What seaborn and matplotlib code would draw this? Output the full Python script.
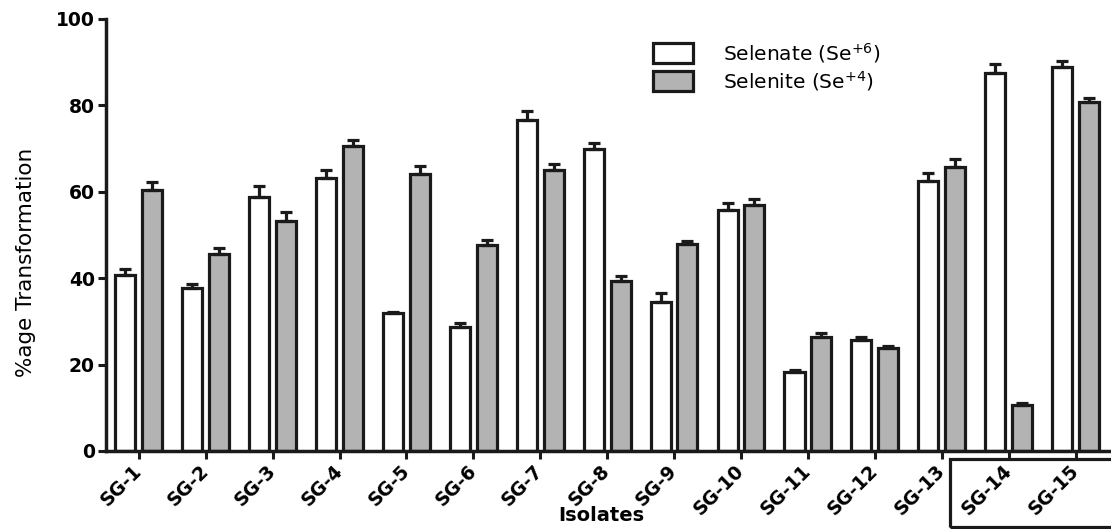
import numpy as np
import pandas as pd
import matplotlib
matplotlib.use("Agg")
import matplotlib.pyplot as plt
import seaborn as sns
from matplotlib.patches import Rectangle

isolates = ["SG-1", "SG-2", "SG-3", "SG-4", "SG-5", "SG-6", "SG-7", "SG-8",
            "SG-9", "SG-10", "SG-11", "SG-12", "SG-13", "SG-14", "SG-15"]
selenate = [40.8, 37.7, 58.7, 63.3, 31.9, 28.8, 76.6, 69.8, 34.6, 55.9,
            18.4, 25.6, 62.6, 87.4, 88.8]
selenate_err = [1.3, 1.0, 2.6, 1.7, 0.3, 0.8, 2.0, 1.4, 2.0, 1.4,
                0.3, 0.8, 1.8, 2.1, 1.5]
selenite = [60.5, 45.7, 53.2, 70.5, 64.2, 47.7, 65.1, 39.4, 48.0, 56.9,
            26.4, 23.8, 65.8, 10.7, 80.8]
selenite_err = [1.7, 1.2, 2.2, 1.6, 1.8, 1.1, 1.3, 1.0, 0.5, 1.5,
                1.0, 0.6, 1.9, 0.5, 0.9]
forms = ["Selenate (Se$^{+6}$)", "Selenite (Se$^{+4}$)"]
colors = ["white", "#b3b3b3"]

df = pd.DataFrame({
    "isolate": isolates * 2,
    "form": [forms[0]] * len(isolates) + [forms[1]] * len(isolates),
    "value": selenate + selenite,
})

sns.set_theme(style="ticks")
plt.rcParams["font.family"] = ["DejaVu Sans"]
plt.rcParams["text.color"] = "black"
plt.rcParams["axes.labelcolor"] = "black"
plt.rcParams["xtick.color"] = "#1a1a1a"
plt.rcParams["ytick.color"] = "#1a1a1a"
plt.rcParams["xtick.labelcolor"] = "black"
plt.rcParams["ytick.labelcolor"] = "black"

fig = plt.figure(figsize=(11.11, 5.29), dpi=100)
ax = fig.add_axes([106 / 1111, 78 / 529, 1 - 106 / 1111, 432 / 529])

sns.barplot(data=df, x="isolate", y="value", hue="form", order=isolates,
            hue_order=forms, palette=dict(zip(forms, colors)), errorbar=None,
            width=0.8, gap=0.25, edgecolor="#1a1a1a", linewidth=2.3,
            saturation=1, ax=ax)

# upper half error bars only
for cont, err in zip(ax.containers, [selenate_err, selenite_err]):
    xs = [p.get_x() + p.get_width() / 2 for p in cont.patches]
    ys = [p.get_height() for p in cont.patches]
    ax.errorbar(xs, ys, yerr=[np.zeros(len(err)), err], fmt="none",
                ecolor="#1a1a1a", elinewidth=2.3, capsize=4.5, capthick=2.3,
                zorder=5)

ax.set_ylim(0, 100)
ax.set_xlim(-0.49, 14.53)
ax.set_yticks([0, 20, 40, 60, 80, 100])
sns.despine(ax=ax)
for s in ["left", "bottom"]:
    ax.spines[s].set_linewidth(2.5)
    ax.spines[s].set_color("#1a1a1a")
ax.tick_params(axis="both", length=6, width=2.2)
ax.tick_params(axis="y", labelsize=13.5, pad=2)
ax.tick_params(axis="x", labelsize=13.5, pad=6)
for lbl in ax.get_yticklabels():
    lbl.set_fontweight("bold")
for lbl in ax.get_xticklabels():
    lbl.set_fontweight("bold")
    lbl.set_rotation(45)
    lbl.set_ha("right")
    lbl.set_va("center")
    lbl.set_rotation_mode("anchor")

ax.set_xlabel("")
fig.text(601 / 1111, 4 / 529, "Isolates", fontsize=14, fontweight="bold",
         ha="center", va="bottom")
ax.set_ylabel("%age Transformation", fontsize=15.5)
ax.yaxis.set_label_coords((36 - 106) / 1005, (451 - 262) / 432)

ax.legend(loc="upper left", bbox_to_anchor=(653 / 1111, 1 - 41 / 529),
          bbox_transform=fig.transFigure, frameon=False, fontsize=14.5,
          handlelength=2.0, handleheight=1.15, labelspacing=0.2,
          handletextpad=1.5, borderaxespad=0, borderpad=0)

fig.patches.append(Rectangle((950 / 1111, 2 / 529), 0.2, 68 / 529,
                             transform=fig.transFigure, fill=False,
                             edgecolor="#1a1a1a", linewidth=2.3))

fig.savefig("out.png", dpi=100)
